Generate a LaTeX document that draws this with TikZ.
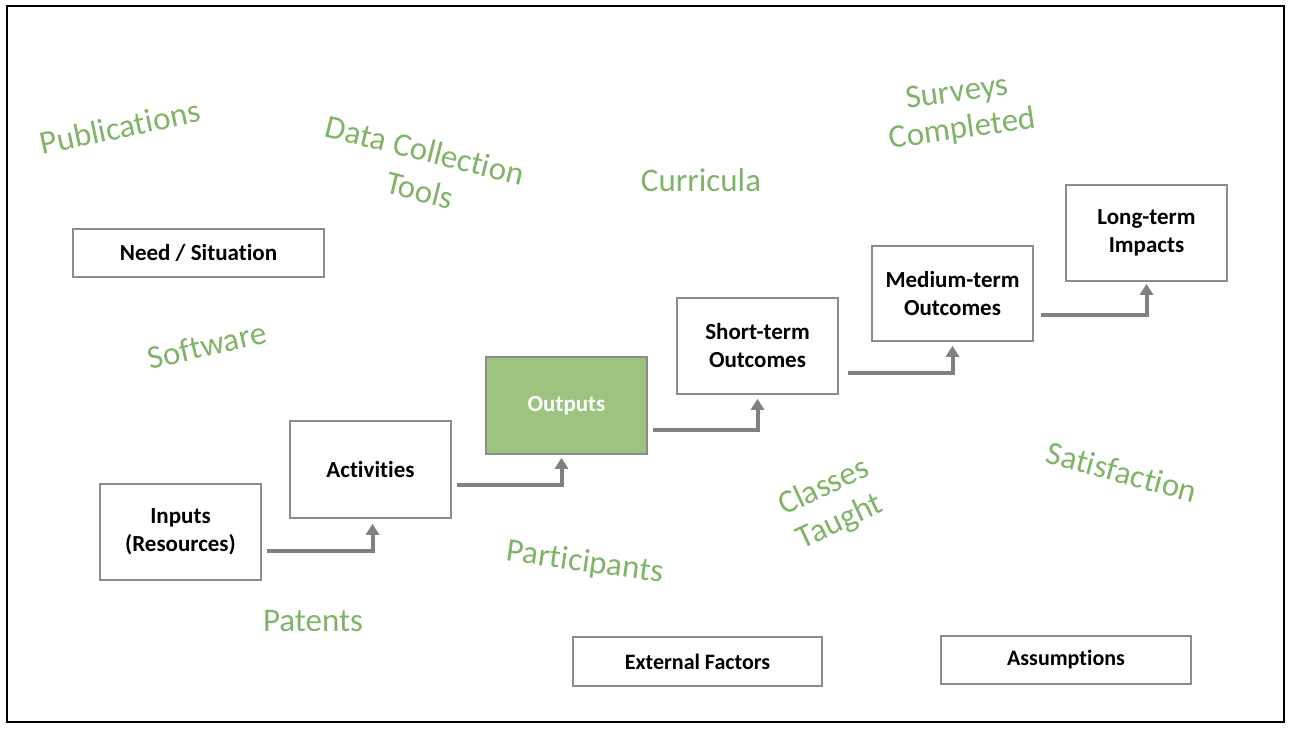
\documentclass[tikz,border=0pt]{standalone}
\usepackage{fontspec}
\setmainfont{Carlito}[Ligatures=NoCommon]
\usetikzlibrary{arrows.meta}
\definecolor{boxgray}{RGB}{140,140,140}
\definecolor{arrgray}{RGB}{128,128,128}
\definecolor{wgreen}{RGB}{128,180,104}
\definecolor{outfill}{RGB}{156,196,128}
\tikzset{
  stage/.style={draw=boxgray, line width=1.6pt, fill=white, font=\bfseries\fontsize{23}{28}\selectfont, align=center, inner sep=0pt},
  arr/.style={draw=arrgray, line width=4pt, -{Triangle[width=13pt,length=11pt]}},
  word/.style={text=wgreen, font=\fontsize{33}{36}\selectfont, align=center, inner sep=0pt}
}
\begin{document}
\begin{tikzpicture}[x=1pt,y=-1pt]
\useasboundingbox (0,0) rectangle (1291,729);
\draw[line width=2.6pt] (7,6) rectangle (1284,722);
% stage boxes
\node[stage, minimum width=251pt, minimum height=48pt] (need) at (198.5,253) {Need / Situation};
\node[stage, minimum width=161pt, minimum height=96pt] (in) at (180.5,532) {Inputs\\(Resources)};
\node[stage, minimum width=161pt, minimum height=97pt] (act) at (370.5,469.5) {Activities};
\node[stage, fill=outfill, text=white, minimum width=161pt, minimum height=97pt] (out) at (566.5,405.5) {Outputs};
\node[stage, minimum width=161pt, minimum height=96pt] (st) at (757.5,346) {Short-term\\Outcomes};
\node[stage, minimum width=161pt, minimum height=95pt] (mt) at (952.5,293.5) {Medium-term\\Outcomes};
\node[stage, minimum width=161pt, minimum height=96pt] (lt) at (1146.5,233) {Long-term\\Impacts};
\node[stage, font=\bfseries\fontsize{22}{26}\selectfont, minimum width=249pt, minimum height=49pt] (ext) at (697.5,661.5) {External Factors};
\node[stage, font=\bfseries\fontsize{22}{26}\selectfont, minimum width=250pt, minimum height=48pt] (asm) at (1066,660) {Assumptions};
% arrows
\draw[arr] ([xshift=5pt,yshift=-19pt]in.east) -| ([xshift=2pt,yshift=-5pt]act.south);
\draw[arr] ([xshift=5pt,yshift=-15.5pt]act.east) -| ([xshift=-5pt,yshift=-3pt]out.south);
\draw[arr] ([xshift=5pt,yshift=-24.5pt]out.east) -| ([xshift=0pt,yshift=-4pt]st.south);
\draw[arr] ([xshift=9pt,yshift=-27pt]st.east) -| ([xshift=0pt,yshift=-4pt]mt.south);
\draw[arr] ([xshift=7pt,yshift=-21.5pt]mt.east) -| ([xshift=0pt,yshift=-2pt]lt.south);
% green words
\node[word, rotate=12] (w1) at (120,127) {Publications};
\node[word, rotate=-14] (w2) at (425,150) {Data Collection};
\node[word, rotate=-14] (w2b) at (420,190) {Tools};
\node[word] (w3) at (701,180) {Curricula};
\node[word, rotate=8, font=\fontsize{33}{37}\selectfont] (w4) at (960,112) {Surveys\\Completed};
\node[word, rotate=13] (w5) at (207,345) {Software};
\node[word] (w6) at (313,621) {Patents};
\node[word, rotate=-8] (w7) at (585,563) {Participants};
\node[word, rotate=25, font=\fontsize{33}{38}\selectfont] (w8) at (832,505) {Classes\\Taught};
\node[word, rotate=-15] (w9) at (1122,472) {Satisfaction};
\end{tikzpicture}
\end{document}
